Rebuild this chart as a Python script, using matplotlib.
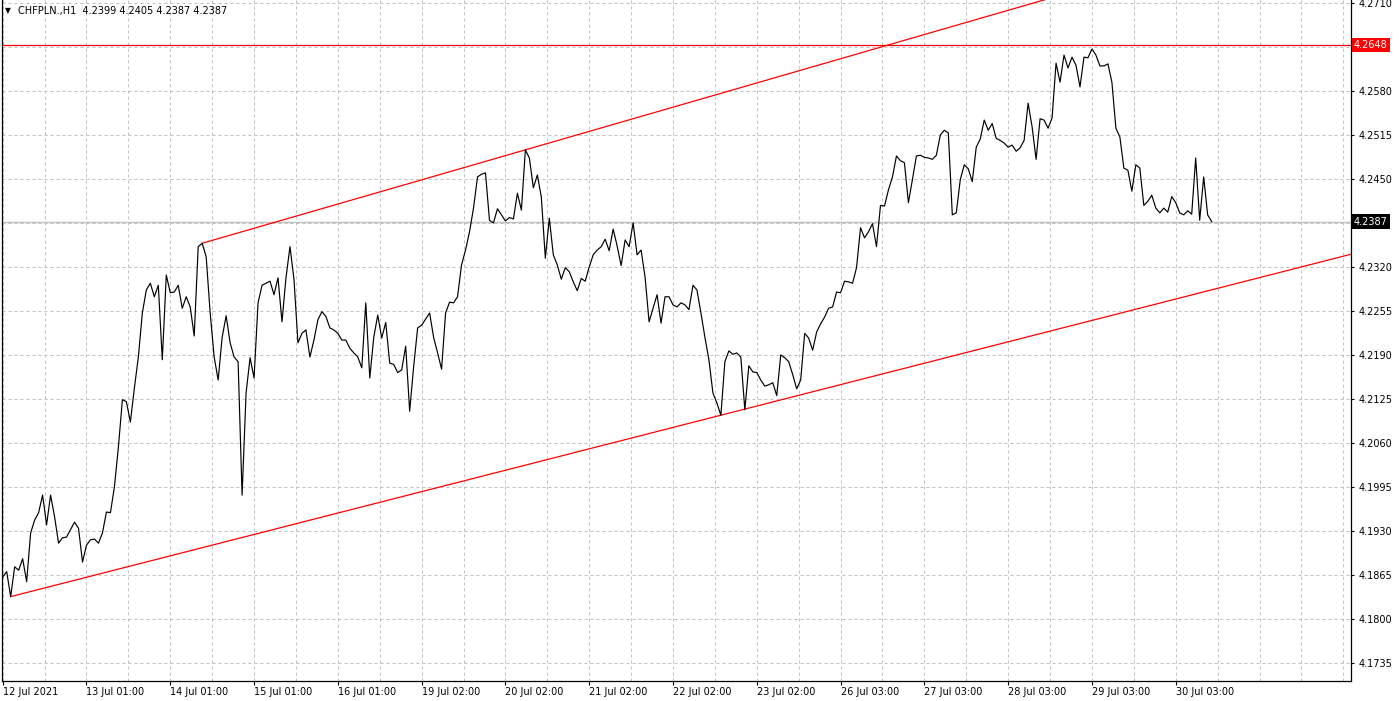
import numpy as np
import matplotlib
matplotlib.use("Agg")
import matplotlib.pyplot as plt
from matplotlib.ticker import FixedLocator, FixedFormatter
import matplotlib.transforms as mtransforms

# ---------------- data ----------------
symbol_header = "CHFPLN.,H1  4.2399 4.2405 4.2387 4.2387"

close = [
    4.1862, 4.1870, 4.1833, 4.1877, 4.1872, 4.1889, 4.1855, 4.1927, 4.1946, 4.1957,
    4.1983, 4.1939, 4.1983, 4.1951, 4.1912, 4.1920, 4.1921, 4.1932, 4.1943, 4.1934,
    4.1884, 4.1909, 4.1917, 4.1918, 4.1912, 4.1927, 4.1958, 4.1957, 4.1995, 4.2054,
    4.2124, 4.2121, 4.2091, 4.2141, 4.2187, 4.2252, 4.2286, 4.2296, 4.2276, 4.2293,
    4.2183, 4.2308, 4.2282, 4.2283, 4.2293, 4.2259, 4.2276, 4.2261, 4.2218, 4.2350,
    4.2355, 4.2335, 4.2252, 4.2187, 4.2153, 4.2216, 4.2248, 4.2208, 4.2187, 4.2180,
    4.1983, 4.2134, 4.2186, 4.2156, 4.2267, 4.2293, 4.2296, 4.2299, 4.2279, 4.2304,
    4.2239, 4.2304, 4.2350, 4.2302, 4.2208, 4.2222, 4.2227, 4.2187, 4.2212, 4.2242,
    4.2254, 4.2247, 4.2230, 4.2227, 4.2222, 4.2212, 4.2212, 4.2200, 4.2193, 4.2187,
    4.2171, 4.2267, 4.2156, 4.2216, 4.2249, 4.2215, 4.2238, 4.2178, 4.2176, 4.2164,
    4.2168, 4.2203, 4.2107, 4.2173, 4.2230, 4.2234, 4.2243, 4.2252, 4.2216, 4.2193,
    4.2169, 4.2252, 4.2268, 4.2267, 4.2276, 4.2323, 4.2345, 4.2372, 4.2407, 4.2453,
    4.2457, 4.2459, 4.2389, 4.2385, 4.2406, 4.2397, 4.2388, 4.2393, 4.2391, 4.2429,
    4.2404, 4.2493, 4.2481, 4.2437, 4.2456, 4.2423, 4.2333, 4.2392, 4.2338, 4.2323,
    4.2302, 4.2319, 4.2313, 4.2298, 4.2285, 4.2303, 4.2299, 4.2320, 4.2338, 4.2345,
    4.2350, 4.2361, 4.2344, 4.2376, 4.2351, 4.2322, 4.2360, 4.2350, 4.2385, 4.2338,
    4.2345, 4.2305, 4.2239, 4.2259, 4.2279, 4.2237, 4.2276, 4.2276, 4.2264, 4.2261,
    4.2267, 4.2264, 4.2257, 4.2293, 4.2286, 4.2252, 4.2216, 4.2183, 4.2134, 4.2119,
    4.2101, 4.2180, 4.2196, 4.2191, 4.2193, 4.2187, 4.2109, 4.2174, 4.2165, 4.2164,
    4.2153, 4.2144, 4.2146, 4.2149, 4.2130, 4.2190, 4.2186, 4.2180, 4.2161, 4.2140,
    4.2153, 4.2222, 4.2215, 4.2197, 4.2224, 4.2236, 4.2246, 4.2259, 4.2261, 4.2283,
    4.2282, 4.2299, 4.2298, 4.2296, 4.2319, 4.2378, 4.2363, 4.2372, 4.2384, 4.2350,
    4.2411, 4.2410, 4.2434, 4.2453, 4.2484, 4.2477, 4.2474, 4.2415, 4.2449, 4.2484,
    4.2485, 4.2482, 4.2481, 4.2479, 4.2485, 4.2515, 4.2522, 4.2518, 4.2397, 4.2400,
    4.2449, 4.2471, 4.2465, 4.2446, 4.2497, 4.2509, 4.2537, 4.2522, 4.2532, 4.2510,
    4.2507, 4.2503, 4.2497, 4.2500, 4.2491, 4.2496, 4.2507, 4.2562, 4.2527, 4.2479,
    4.2539, 4.2537, 4.2525, 4.2540, 4.2621, 4.2593, 4.2633, 4.2614, 4.2630, 4.2618,
    4.2586, 4.2630, 4.2629, 4.2642, 4.2633, 4.2617, 4.2617, 4.2620, 4.2593, 4.2525,
    4.2512, 4.2466, 4.2463, 4.2432, 4.2471, 4.2466, 4.2411, 4.2417, 4.2426, 4.2407,
    4.2400, 4.2407, 4.2401, 4.2424, 4.2415, 4.2400, 4.2397, 4.2403, 4.2398, 4.2481,
    4.2389, 4.2453, 4.2397, 4.2387,
]

date_labels = ["12 Jul 2021", "13 Jul 01:00", "14 Jul 01:00", "15 Jul 01:00",
               "16 Jul 01:00", "19 Jul 02:00", "20 Jul 02:00", "21 Jul 02:00",
               "22 Jul 02:00", "23 Jul 02:00", "26 Jul 03:00", "27 Jul 03:00",
               "28 Jul 03:00", "29 Jul 03:00", "30 Jul 03:00"]
bars_per_label = 21

price_levels = [4.1735, 4.1800, 4.1865, 4.1930, 4.1995, 4.2060, 4.2125, 4.2190,
                4.2255, 4.2320, 4.2385, 4.2450, 4.2515, 4.2580, 4.2645, 4.2710]
hidden_levels = [4.2385, 4.2645]

resistance_level = 4.2648
# trendline anchors (bar index, price)
lower_trend = [(2, 4.1833), (180, 4.2101)]
upper_trend = [(50, 4.2355), (131, 4.2493)]

# ---------------- figure ----------------
W, H = 1400, 701
fig = plt.figure(figsize=(W / 100, H / 100), dpi=100)
fig.patch.set_facecolor("white")

ax_left, ax_right, ax_top, ax_bottom = 1.5, 1350.5, 0.0, 680.5
ax = fig.add_axes([ax_left / W, (H - ax_bottom) / H,
                   (ax_right - ax_left) / W, (ax_bottom - ax_top) / H])

x = np.arange(len(close))
xmin, xmax = -0.3, 337.8
ymin, ymax = 4.17091, 4.27144
ax.set_xlim(xmin, xmax)
ax.set_ylim(ymin, ymax)

grid_kw = dict(color="#c0c0c0", linewidth=0.72, linestyle=(0, (3, 3)))

# grid
ax.yaxis.set_major_locator(FixedLocator(price_levels))
ax.yaxis.set_major_formatter(FixedFormatter(
    ["" if p in hidden_levels else f"{p:.4f}" for p in price_levels]))
label_pos = [i * bars_per_label for i in range(len(date_labels))]
ax.xaxis.set_major_locator(FixedLocator(label_pos))
ax.xaxis.set_major_formatter(FixedFormatter(date_labels))
minor_pos = [i * bars_per_label / 2 for i in range(1, 33)]
ax.xaxis.set_minor_locator(FixedLocator(minor_pos))
ax.grid(True, which="major", axis="y", **grid_kw)
ax.grid(True, which="both", axis="x", **grid_kw)
ax.set_axisbelow(True)

# current bid line
ax.axhline(close[-1], color="#c0c0c0", linewidth=1.0, zorder=1)

# price line
ax.plot(x, close, color="black", linewidth=0.85, zorder=3)

# horizontal resistance
ax.axhline(resistance_level, color="#ff0000", linewidth=0.9, zorder=2)

# trendline rays
for (b0, p0), (b1, p1) in (lower_trend, upper_trend):
    slope = (p1 - p0) / (b1 - b0)
    xe = xmax + 5
    ax.plot([b0, xe], [p0, p0 + slope * (xe - b0)], color="#ff0000",
            linewidth=0.9, zorder=2, clip_on=True)

# spines
for s in ("top",):
    ax.spines[s].set_visible(False)
for s in ("left", "right", "bottom"):
    ax.spines[s].set_color("black")
    ax.spines[s].set_linewidth(0.9)

ax.yaxis.tick_right()
ax.tick_params(axis="y", which="major", direction="out", length=2.5, width=0.8,
               pad=3, labelsize=7, colors="black")
ax.tick_params(axis="x", which="major", direction="out", length=3, width=0.8,
               pad=2, labelsize=7, colors="black")
ax.tick_params(axis="x", which="minor", length=0)
ax.tick_params(axis="y", left=False)
for lab in ax.get_xticklabels():
    lab.set_horizontalalignment("left")

# right axis price boxes
trans = mtransforms.blended_transform_factory(ax.transAxes, ax.transData)
offset = mtransforms.ScaledTranslation(3.5 / 100, 0, fig.dpi_scale_trans)
for val, bg in ((resistance_level, "#ff0000"), (close[-1], "black")):
    ax.text(1.0, val, f"{val:.4f}", transform=trans + offset, ha="left", va="center",
            fontsize=7, color="white", clip_on=False, zorder=5,
            bbox=dict(boxstyle="square,pad=0.22", facecolor=bg, edgecolor="none"))

# header
fig.text(8 / W, 1 - 11 / H, "▼", fontsize=5.5, ha="center", va="center", color="black")
fig.text(18 / W, 1 - 11 / H, symbol_header, fontsize=7, ha="left", va="center",
         color="black")

fig.savefig("out.png", dpi=100, facecolor="white")
